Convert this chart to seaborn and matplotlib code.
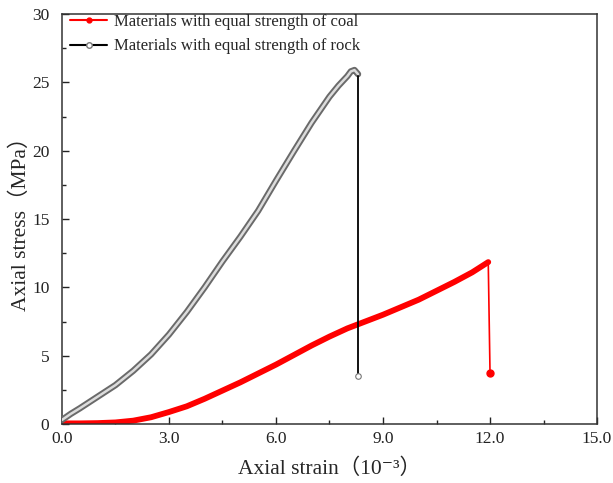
import matplotlib
matplotlib.use("Agg")
import matplotlib.pyplot as plt
import seaborn as sns
import pandas as pd
from matplotlib.lines import Line2D
from matplotlib.ticker import MultipleLocator, FormatStrFormatter

# ----------------------------
# Data
# ----------------------------
rock_strain = [0.0, 0.25, 0.5, 1.0, 1.5, 2.0, 2.5, 3.0, 3.5, 4.0, 4.5, 5.0, 5.5,
               6.0, 6.5, 7.0, 7.5, 7.75, 8.0, 8.1, 8.2, 8.3]
rock_stress = [0.3, 0.75, 1.15, 2.0, 2.85, 3.9, 5.1, 6.55, 8.2, 10.0, 11.9, 13.7, 15.6,
               17.8, 19.95, 22.05, 23.95, 24.75, 25.45, 25.8, 25.9, 25.6]
rock_drop_strain = [8.3, 8.3]
rock_drop_stress = [25.6, 3.5]

coal_strain = [0.0, 0.5, 1.0, 1.5, 2.0, 2.5, 3.0, 3.5, 4.0, 4.5, 5.0, 5.5, 6.0,
               6.5, 7.0, 7.5, 8.0, 8.5, 9.0, 9.5, 10.0, 10.5, 11.0, 11.5, 11.95]
coal_stress = [0.05, 0.05, 0.07, 0.12, 0.25, 0.5, 0.88, 1.3, 1.85, 2.45, 3.05, 3.7, 4.35,
               5.05, 5.75, 6.4, 7.0, 7.5, 8.0, 8.55, 9.1, 9.75, 10.4, 11.1, 11.85]
coal_drop_strain = [11.95, 12.0]
coal_drop_stress = [11.85, 3.7]

labels = ["Materials with equal strength of coal",
          "Materials with equal strength of rock"]

# ----------------------------
# Plot
# ----------------------------
sns.set_theme(style="ticks")
plt.rcParams['font.family'] = ['Liberation Serif', 'DejaVu Serif', 'Noto Sans CJK SC']

fig = plt.figure(figsize=(6.13, 4.83), dpi=100)
ax = fig.add_axes([0.101, 0.122, 0.873, 0.849])

rock = pd.DataFrame({"strain": rock_strain, "stress": rock_stress})
coal = pd.DataFrame({"strain": coal_strain, "stress": coal_stress})

# rock: chain of open circles -> grey band with light core
sns.lineplot(data=rock, x="strain", y="stress", ax=ax, color="#6a6a6a",
             lw=4.6, sort=False, estimator=None, zorder=3)
sns.lineplot(data=rock, x="strain", y="stress", ax=ax, color="#dcdcdc",
             lw=1.8, sort=False, estimator=None, zorder=4)
ax.plot(rock_drop_strain, rock_drop_stress, color="black", lw=1.3, zorder=3)
ax.plot(rock_drop_strain[-1:], rock_drop_stress[-1:], "o", ms=4, mfc="white",
        mec="#777777", mew=0.8, zorder=5)

# coal: dense red filled markers -> thick red line
sns.lineplot(data=coal, x="strain", y="stress", ax=ax, color="red",
             lw=4.2, sort=False, estimator=None, zorder=2)
ax.plot(coal_drop_strain, coal_drop_stress, color="red", lw=1.2, zorder=2)
ax.plot(coal_drop_strain[-1:], coal_drop_stress[-1:], "o", ms=5, color="red", zorder=2)

ax.set_xlim(0, 15)
ax.set_ylim(0, 30)
ax.xaxis.set_major_locator(MultipleLocator(3))
ax.xaxis.set_minor_locator(MultipleLocator(1.5))
ax.xaxis.set_major_formatter(FormatStrFormatter("%.1f"))
ax.yaxis.set_major_locator(MultipleLocator(5))
ax.yaxis.set_minor_locator(MultipleLocator(2.5))
ax.tick_params(which="both", direction="in", top=False, right=False,
               labelsize=12.5, width=1.0, colors="#222222")
ax.tick_params(which="major", length=5)
ax.tick_params(which="minor", length=3)
ax.tick_params(axis="y", pad=9)
ax.tick_params(axis="x", pad=5)
for sp in ax.spines.values():
    sp.set_linewidth(1.1)
    sp.set_color("#333333")

ax.set_xlabel("Axial strain（10⁻³）", fontsize=15.5, labelpad=8)
ax.set_ylabel("Axial stress（MPa）", fontsize=15.5, labelpad=1)

handles = [
    Line2D([], [], color="red", lw=1.5, marker="o", ms=3.5),
    Line2D([], [], color="black", lw=1.5, marker="o", ms=4, mfc="white", mec="#777777"),
]
ax.legend(handles, labels, loc="upper left", frameon=False, fontsize=12,
          handlelength=2.2, handletextpad=0.45, borderaxespad=0.1,
          labelspacing=0.5, bbox_to_anchor=(0.0, 1.02))

fig.savefig("out.png", dpi=100)
